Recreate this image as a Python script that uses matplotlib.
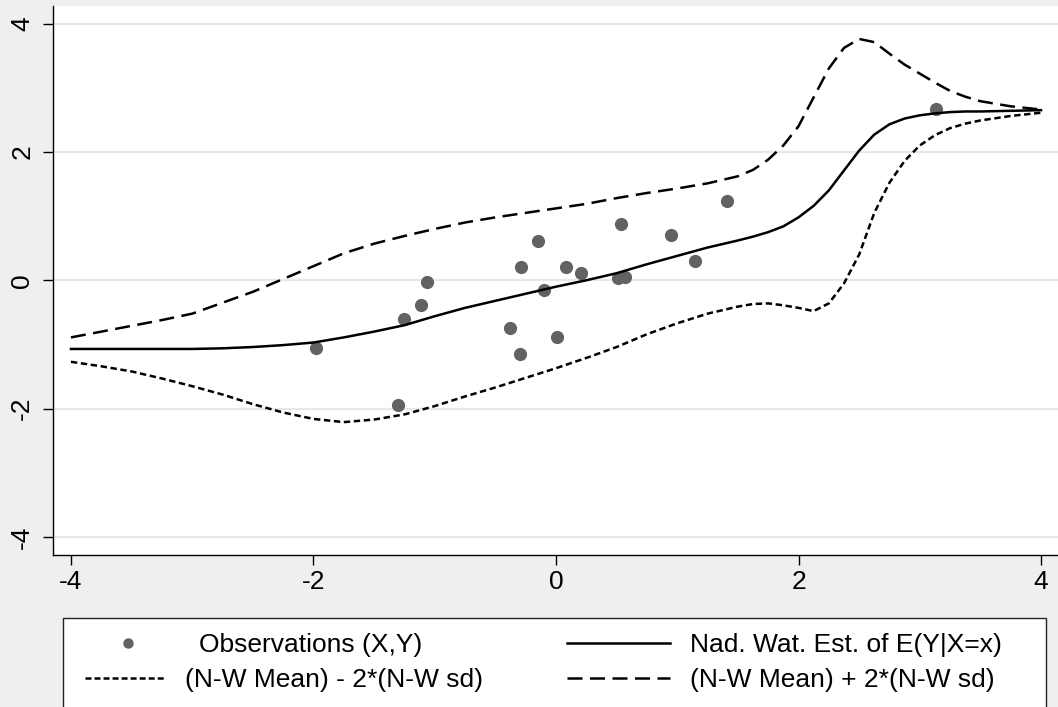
import matplotlib
matplotlib.use("Agg")
import matplotlib.pyplot as plt
from matplotlib.lines import Line2D
from matplotlib.patches import Rectangle

plt.rcParams['font.family'] = ['Liberation Sans', 'DejaVu Sans']
plt.rcParams['lines.scale_dashes'] = False

# ---- data -------------------------------------------------------------
obs_x = [-1.98, -1.30, -1.25, -1.11, -1.06, -0.38, -0.30, -0.29, -0.15, -0.10,
         0.01, 0.08, 0.21, 0.51, 0.57, 0.54, 0.95, 1.15, 1.41, 3.13]
obs_y = [-1.06, -1.95, -0.61, -0.39, -0.02, -0.74, -1.15, 0.21, 0.61, -0.15,
         -0.89, 0.21, 0.11, 0.03, 0.05, 0.87, 0.70, 0.30, 1.24, 2.67]

grid_x = [-4.0, -3.75, -3.5, -3.25, -3.0, -2.75, -2.5, -2.25, -2.0, -1.75,
          -1.5, -1.25, -1.0, -0.75, -0.5, -0.25, 0.0, 0.25, 0.5, 0.75,
          1.0, 1.25, 1.5, 1.625, 1.75, 1.875, 2.0, 2.125, 2.25, 2.375,
          2.5, 2.625, 2.75, 2.875, 3.0, 3.125, 3.25, 3.375, 3.5, 3.75, 4.0]
nw_mean = [-1.07, -1.07, -1.07, -1.07, -1.07, -1.06, -1.04, -1.01, -0.97, -0.89,
           -0.80, -0.70, -0.56, -0.43, -0.32, -0.21, -0.10, 0.00, 0.11, 0.25,
           0.38, 0.51, 0.62, 0.68, 0.75, 0.84, 0.98, 1.16, 1.40, 1.71,
           2.02, 2.27, 2.43, 2.52, 2.57, 2.60, 2.62, 2.63, 2.63, 2.64, 2.65]
nw_upper = [-0.89, -0.80, -0.71, -0.62, -0.52, -0.35, -0.18, 0.02, 0.22, 0.42,
            0.57, 0.69, 0.80, 0.90, 0.98, 1.05, 1.12, 1.19, 1.28, 1.36,
            1.43, 1.51, 1.62, 1.72, 1.88, 2.10, 2.40, 2.85, 3.30, 3.62,
            3.76, 3.71, 3.53, 3.36, 3.22, 3.08, 2.95, 2.86, 2.79, 2.71, 2.66]
nw_lower = [-1.27, -1.34, -1.42, -1.53, -1.65, -1.78, -1.93, -2.06, -2.16, -2.21,
            -2.17, -2.09, -1.96, -1.81, -1.67, -1.52, -1.37, -1.21, -1.04, -0.84,
            -0.67, -0.52, -0.41, -0.37, -0.36, -0.39, -0.43, -0.48, -0.36, -0.05,
            0.40, 1.05, 1.52, 1.86, 2.10, 2.26, 2.37, 2.44, 2.49, 2.56, 2.61]

ticks = [-4, -2, 0, 2, 4]
labels_legend = ["Observations (X,Y)", "Nad. Wat. Est. of E(Y|X=x)",
                 "(N-W Mean) - 2*(N-W sd)", "(N-W Mean) + 2*(N-W sd)"]

# ---- figure -----------------------------------------------------------
W, H = 1058, 707
bg = '#efefef'
fig = plt.figure(figsize=(W / 100, H / 100), dpi=100, facecolor=bg)

def fx(px):
    return px / W

def fy(py):
    return 1 - py / H

ax = fig.add_axes([fx(53), fy(555), 1 - fx(53), fy(6) - fy(555)])
ax.set_facecolor('white')
ax.set_xlim(-4.148, 4.140)
ax.set_ylim(-4.280, 4.273)

short_dash = (0, (4.6, 2.6))
long_dash = (0, (10.8, 5.4))
mcol = '#626262'

ax.plot(obs_x, obs_y, 'o', color=mcol, markersize=9.5, markeredgewidth=0, zorder=3)
ax.plot(grid_x, nw_mean, color='black', lw=1.8, zorder=4)
ax.plot(grid_x, nw_lower, color='black', lw=1.8, linestyle=short_dash, zorder=4)
ax.plot(grid_x, nw_upper, color='black', lw=1.8, linestyle=long_dash, zorder=4)

ax.set_xticks(ticks)
ax.set_yticks(ticks)
ax.set_xticklabels([str(t) for t in ticks])
ax.set_yticklabels([str(t) for t in ticks], rotation=90, va='center')
ax.tick_params(axis='both', labelsize=19, length=7.5, width=1, color='black',
               direction='out')
ax.tick_params(axis='x', pad=3)
ax.tick_params(axis='y', pad=6)
ax.yaxis.grid(True, color='#e8e8e8', lw=1.6)
ax.set_axisbelow(True)
for s in ['top', 'right']:
    ax.spines[s].set_visible(False)
for s in ['left', 'bottom']:
    ax.spines[s].set_color('black')
    ax.spines[s].set_linewidth(1.0)

# ---- legend (Stata style, two columns, box cut by figure edge) --------
fig.patches.append(Rectangle((fx(63), fy(730)), fx(1046) - fx(63), fy(618) - fy(730),
                             transform=fig.transFigure, facecolor='white',
                             edgecolor='#222222', lw=1.0, zorder=1))
r1, r2 = 643, 678
fig.lines.append(Line2D([fx(128)], [fy(r1)], marker='o', color=mcol, markersize=7.5,
                        markeredgewidth=0, linestyle='none', transform=fig.transFigure, zorder=2))
fig.lines.append(Line2D([fx(567), fx(670)], [fy(r1), fy(r1)], color='black', lw=1.8,
                        transform=fig.transFigure, zorder=2))
fig.lines.append(Line2D([fx(85), fx(164)], [fy(r2), fy(r2)], color='black', lw=1.8,
                        linestyle=(0, (4.3, 2.2)), transform=fig.transFigure, zorder=2))
fig.lines.append(Line2D([fx(567), fx(670)], [fy(r2), fy(r2)], color='black', lw=1.8,
                        linestyle=(0, (10.8, 5.4)), transform=fig.transFigure, zorder=2))
fs = 19
fig.text(fx(199), fy(652), labels_legend[0], fontsize=fs, va='baseline', ha='left', zorder=3)
fig.text(fx(690), fy(652), labels_legend[1], fontsize=fs, va='baseline', ha='left', zorder=3)
fig.text(fx(185), fy(687), labels_legend[2], fontsize=fs, va='baseline', ha='left', zorder=3)
fig.text(fx(690), fy(687), labels_legend[3], fontsize=fs, va='baseline', ha='left', zorder=3)

fig.savefig('out.png', dpi=100, facecolor=bg)
